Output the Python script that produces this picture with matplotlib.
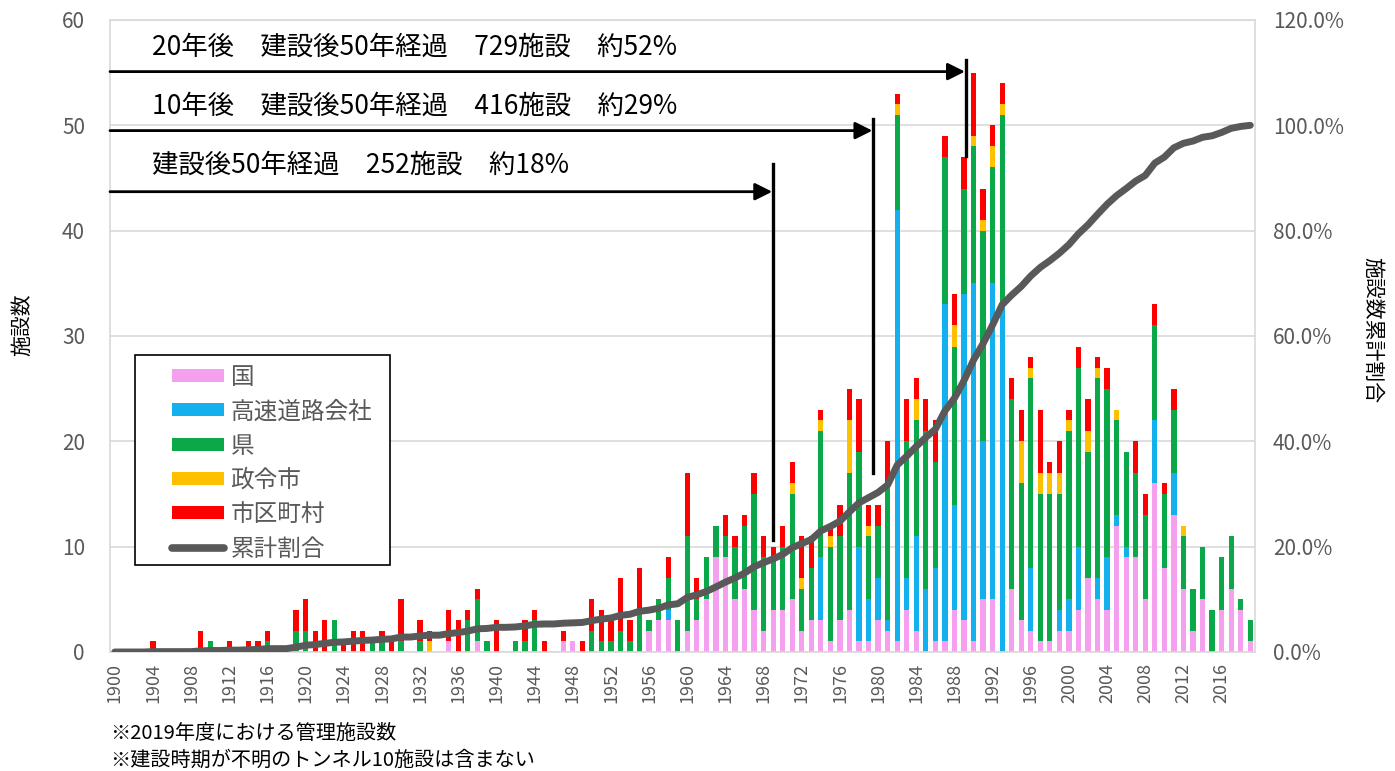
import numpy as np
import matplotlib
matplotlib.use("Agg")
import matplotlib.pyplot as plt
from matplotlib.patches import Patch, Rectangle
from matplotlib.lines import Line2D

plt.rcParams['font.family'] = ['Noto Sans CJK JP', 'DejaVu Sans']

# 建設年度 (1900-2019)
years = list(range(1900, 2020))

# 国
kuni = [0, 0, 0, 0, 0, 0, 0, 0, 0, 0,
        0, 0, 0, 0, 0, 0, 0, 0, 0, 0,
        0, 0, 0, 0, 0, 0, 0, 0, 0, 0,
        0, 0, 0, 0, 0, 1, 0, 0, 1, 0,
        0, 0, 0, 0, 0, 0, 0, 1, 1, 0,
        0, 0, 0, 0, 0, 0, 2, 3, 3, 0,
        2, 3, 5, 9, 9, 5, 6, 4, 2, 4,
        4, 5, 2, 3, 3, 1, 3, 4, 1, 1,
        3, 2, 1, 4, 2, 0, 1, 1, 4, 3,
        1, 5, 5, 0, 6, 3, 2, 1, 1, 2,
        2, 4, 7, 5, 4, 12, 9, 9, 5, 16,
        8, 13, 6, 2, 5, 0, 4, 6, 4, 1]

# 高速道路会社
kosoku = [0, 0, 0, 0, 0, 0, 0, 0, 0, 0,
          0, 0, 0, 0, 0, 0, 0, 0, 0, 0,
          0, 0, 0, 0, 0, 0, 0, 0, 0, 0,
          0, 0, 0, 0, 0, 0, 0, 0, 0, 0,
          0, 0, 0, 0, 0, 0, 0, 0, 0, 0,
          0, 0, 0, 0, 0, 0, 0, 0, 1, 0,
          0, 0, 0, 0, 0, 0, 0, 0, 0, 0,
          0, 0, 0, 0, 6, 0, 0, 0, 9, 4,
          4, 1, 41, 3, 9, 6, 7, 32, 10, 31,
          34, 15, 30, 33, 0, 0, 6, 0, 0, 2,
          3, 6, 0, 2, 5, 1, 1, 0, 0, 6,
          0, 4, 0, 0, 0, 0, 0, 0, 0, 0]

# 県
ken = [0, 0, 0, 0, 0, 0, 0, 0, 0, 0,
       1, 0, 0, 0, 0, 0, 1, 0, 0, 2,
       2, 0, 0, 3, 0, 0, 0, 1, 1, 0,
       1, 0, 1, 0, 0, 0, 0, 3, 4, 1,
       0, 0, 1, 1, 3, 0, 0, 0, 0, 0,
       2, 1, 1, 2, 1, 4, 1, 2, 3, 3,
       9, 2, 4, 3, 2, 5, 6, 11, 7, 5,
       6, 10, 4, 5, 12, 9, 8, 13, 9, 6,
       5, 13, 9, 13, 11, 15, 10, 14, 15, 10,
       13, 20, 11, 18, 18, 13, 18, 14, 14, 11,
       16, 17, 12, 19, 16, 9, 9, 8, 8, 9,
       7, 6, 5, 4, 5, 4, 5, 5, 1, 2]

# 政令市
seirei = [0, 0, 0, 0, 0, 0, 0, 0, 0, 0,
          0, 0, 0, 0, 0, 0, 0, 0, 0, 0,
          0, 0, 0, 0, 0, 0, 0, 0, 0, 0,
          0, 0, 0, 1, 0, 0, 0, 0, 0, 0,
          0, 0, 0, 0, 0, 0, 0, 0, 0, 0,
          0, 0, 0, 0, 0, 0, 0, 0, 0, 0,
          0, 0, 0, 0, 0, 0, 0, 0, 0, 0,
          0, 1, 1, 0, 1, 1, 0, 5, 0, 1,
          0, 0, 1, 0, 2, 0, 0, 0, 2, 0,
          1, 1, 2, 1, 0, 4, 1, 2, 2, 2,
          1, 0, 2, 1, 0, 1, 0, 0, 0, 0,
          0, 0, 1, 0, 0, 0, 0, 0, 0, 0]

# 市区町村
shiku = [0, 0, 0, 0, 1, 0, 0, 0, 0, 2,
         0, 0, 1, 0, 1, 1, 1, 0, 0, 2,
         3, 2, 3, 0, 1, 2, 2, 0, 1, 1,
         4, 0, 2, 1, 0, 3, 3, 1, 1, 0,
         3, 0, 0, 2, 1, 1, 0, 1, 0, 1,
         3, 3, 2, 5, 2, 4, 0, 0, 2, 0,
         6, 2, 0, 0, 2, 1, 1, 2, 2, 1,
         2, 2, 4, 3, 1, 1, 3, 3, 5, 2,
         2, 4, 1, 4, 2, 3, 4, 2, 3, 3,
         6, 3, 2, 2, 2, 3, 1, 6, 1, 3,
         1, 2, 3, 1, 2, 0, 0, 3, 2, 2,
         1, 2, 0, 0, 0, 0, 0, 0, 0, 0]

series_labels = ["国", "高速道路会社", "県", "政令市", "市区町村"]
series_colors = ["#F5A0EF", "#14B0EE", "#0BA84A", "#FFC000", "#FF0000"]
line_label = "累計割合"
line_color = "#595959"

notes = [("20年後　建設後50年経過　729施設　約52%", 1989),
         ("10年後　建設後50年経過　416施設　約29%", 1979),
         ("建設後50年経過　252施設　約18%", 1969)]

GRAY = "#595959"
GRID = "#D9D9D9"

W, H = 1395, 771
fig = plt.figure(figsize=(W / 100, H / 100), dpi=100)
ax = fig.add_axes([110 / W, 1 - 652 / H, 1145 / W, 632 / H])

x = np.array(years)
data = [np.array(s) for s in (kuni, kosoku, ken, seirei, shiku)]
bottom = np.zeros(len(years))
for vals, lab, col in zip(data, series_labels, series_colors):
    ax.bar(x, vals, width=0.55, bottom=bottom, color=col, label=lab, zorder=2)
    bottom += vals

# 累計割合 (%)
totals = bottom
cum_pct = np.cumsum(totals) / totals.sum() * 100

ax.set_xlim(1899.5, 2019.5)
ax.set_ylim(0, 60)
ax.set_yticks(range(0, 61, 10))
ax.set_xticks(range(1900, 2017, 4))
ax.set_xticklabels([str(y) for y in range(1900, 2017, 4)], rotation=90)
ax.tick_params(axis='x', length=0, pad=8, labelsize=13, labelcolor=GRAY)
ax.tick_params(axis='y', length=0, pad=18, labelsize=15, labelcolor=GRAY)
ax.grid(axis='y', color=GRID, linewidth=1.2, zorder=0)
ax.set_axisbelow(True)
for sp in ax.spines.values():
    sp.set_color(GRID)
    sp.set_linewidth(1.2)

ax2 = ax.twinx()
ax2.plot(x, cum_pct, color=line_color, linewidth=5, solid_capstyle='round', zorder=3)
ax2.set_ylim(0, 120)
ax2.set_yticks(range(0, 121, 20))
ax2.set_yticklabels([f"{v:.1f}%" for v in range(0, 121, 20)])
ax2.tick_params(axis='y', length=0, pad=13, labelsize=15, labelcolor=GRAY)
for sp in ax2.spines.values():
    sp.set_visible(False)

# 注記と矢印
offsets = {1969: 0.0, 1979: 0.5, 1989: 0.2}
arrow_y = [55.1, 49.5, 43.7]
text_y = [57.45, 51.85, 46.25]
vline = [(47.1, 56.2), (17.0, 50.6), (10.6, 46.3)]
for (txt, yr), ay, ty, (v0, v1) in zip(notes, arrow_y, text_y, vline):
    xv = yr + offsets[yr]
    ax.text(1903.9, ty, txt, fontsize=19, va='center', ha='left', color='black', zorder=5)
    ax.annotate('', xy=(xv - 0.1, ay), xytext=(1899.5, ay),
                arrowprops=dict(arrowstyle='-|>', mutation_scale=26, lw=2,
                                color='black', shrinkA=0, shrinkB=0), zorder=5)
    ax.plot([xv, xv], [v0, v1], color='black', linewidth=2.4, zorder=5)

# 凡例 (枠は別に描く)
fig.patches.append(Rectangle((135 / W, 1 - 565 / H), 255 / W, 210 / H,
                             transform=fig.transFigure, facecolor='white',
                             edgecolor='black', linewidth=1.2, zorder=4))
handles = [Patch(facecolor=c, edgecolor='none') for c in series_colors]
handles.append(Line2D([0], [0], color=line_color, linewidth=5.5, solid_capstyle='round'))
leg = fig.legend(handles, series_labels + [line_label], loc='upper left',
                 bbox_to_anchor=(172 / W, 1 - 366 / H), fontsize=17,
                 frameon=False, handlelength=2.2, handleheight=0.47,
                 labelspacing=0.48, handletextpad=0.28, borderpad=0,
                 borderaxespad=0)
leg.set_zorder(5)
for t in leg.get_texts():
    t.set_color(GRAY)

fig.text(22 / W, 1 - 325 / H, "施設数", rotation=90, fontsize=15,
         ha='center', va='center', color='black')
fig.text(1372 / W, 1 - 330 / H, "施設数累計割合", rotation=-90, fontsize=15,
         ha='center', va='center', color='black')

fig.text(110 / W, 1 - 733 / H, "※2019年度における管理施設数", fontsize=14.5,
         ha='left', va='center', color='black')
fig.text(110 / W, 1 - 760 / H, "※建設時期が不明のトンネル10施設は含まない", fontsize=14.5,
         ha='left', va='center', color='black')

fig.savefig("out.png", dpi=100)
